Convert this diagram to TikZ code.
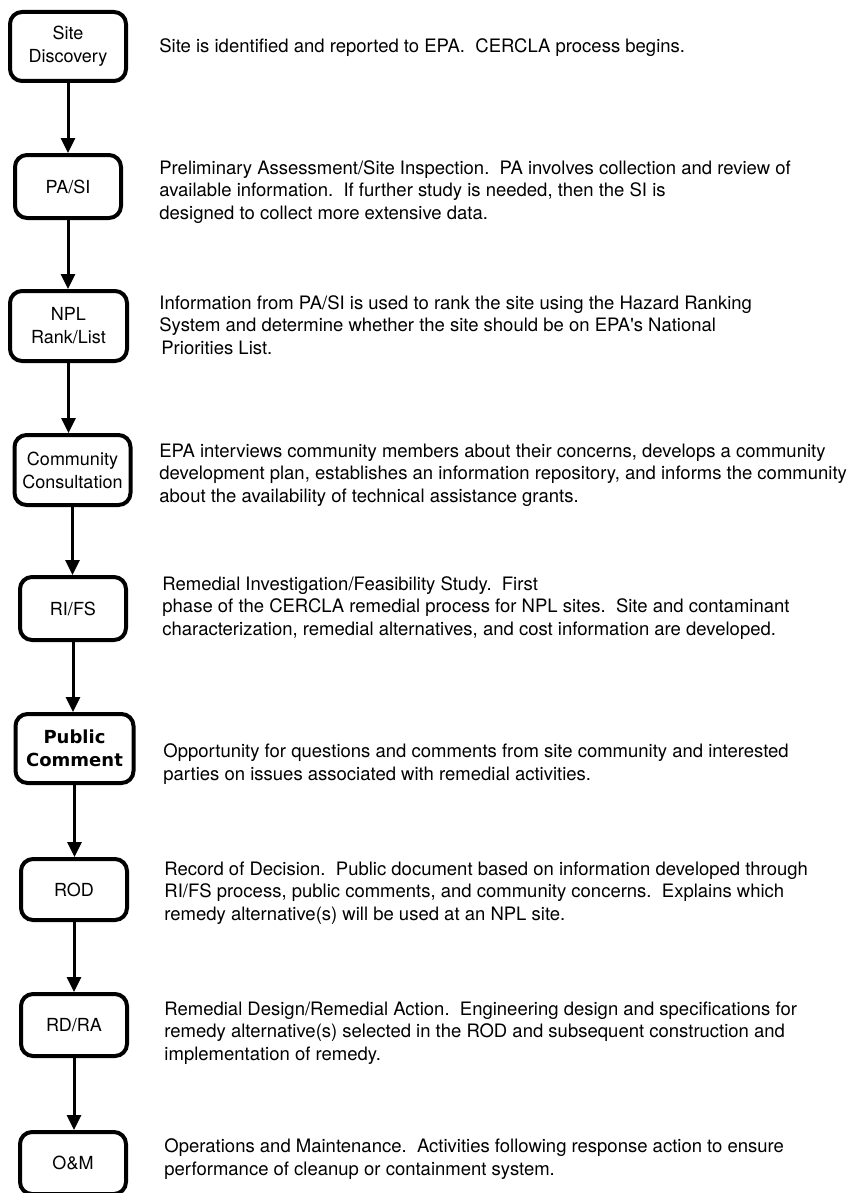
\documentclass[tikz,border=0pt]{standalone}
\usepackage{fontspec}
\setmainfont{TeX Gyre Heros}
\newfontfamily\heavyfont{DejaVu Sans}
\usetikzlibrary{arrows.meta}

\tikzset{
  stage/.style={draw, line width=2pt, rounded corners=6pt, align=center, inner sep=0pt, font=\fontsize{9}{11.5}\selectfont},
  info/.style={anchor=base west, align=left, inner sep=0pt, font=\fontsize{9.25}{11.25}\selectfont},
  flow/.style={line width=1.5pt, -{Triangle[length=7.5pt,width=7pt]}}
}

\begin{document}
\begin{tikzpicture}[x=0.5pt,y=-0.5pt]
\useasboundingbox (0,0) rectangle (852,1193);
	\node[stage, minimum width=58pt, minimum height=34.5pt] (disc) at (68,46.5) {Site\\Discovery};
	\node[stage, minimum width=53pt, minimum height=31.5pt] (pasi) at (68,186.5) {PA/SI};
	\node[stage, minimum width=58.5pt, minimum height=35pt] (npl) at (68.5,326) {NPL\\Rank/List};
	\node[stage, minimum width=58pt, minimum height=35pt] (comm) at (72.5,470) {Community\\Consultation};
	\node[stage, minimum width=53pt, minimum height=31.5pt] (rifs) at (73,608.5) {RI/FS};
	\node[stage, minimum width=59pt, minimum height=34.5pt, font=\heavyfont\bfseries\fontsize{9}{11.5}\selectfont] (pubc) at (74.5,748.5) {Public\\Comment};
	\node[stage, minimum width=53pt, minimum height=30.5pt] (rod) at (74,889.5) {ROD};
	\node[stage, minimum width=53pt, minimum height=31pt] (rdra) at (74,1025) {RD/RA};
	\node[stage, minimum width=53pt, minimum height=31pt] (om) at (73,1163) {O\&M};
	\draw[flow] (disc.south) -- (disc.south |- pasi.north);
	\draw[flow] (pasi.south) -- (pasi.south |- npl.north);
	\draw[flow] (npl.south) -- (npl.south |- comm.north);
	\draw[flow] (comm.south) -- (comm.south |- rifs.north);
	\draw[flow] (rifs.south) -- (rifs.south |- pubc.north);
	\draw[flow] (pubc.south) -- (pubc.south |- rod.north);
	\draw[flow] (rod.south) -- (rod.south |- rdra.north);
	\draw[flow] (rdra.south) -- (rdra.south |- om.north);
	\node[info] (discinfo) at (159,53) {Site is identified and reported to EPA.~~CERCLA process begins.};
	\node[info] (pasiinfo) at (159,219) {Preliminary Assessment/Site Inspection.~~PA involves collection and review of\\available information.~~If further study is needed, then the SI is\\designed to collect more extensive data.};
	\node[info] (nplinfo) at (159,354) {Information from PA/SI is used to rank the site using the Hazard Ranking\\System and determine whether the site should be on EPA\textquotesingle s National\\\hspace*{1pt}Priorities List.};
	\node[info] (comminfo) at (159,502) {EPA interviews community members about their concerns, develops a community\\development plan, establishes an information repository, and informs the community\\about the availability of technical assistance grants.};
	\node[info] (rifsinfo) at (162,635) {Remedial Investigation/Feasibility Study.~~First\\phase of the CERCLA remedial process for NPL sites.~~Site and contaminant\\characterization, remedial alternatives, and cost information are developed.};
	\node[info] (pubcinfo) at (163,780) {Opportunity for questions and comments from site community and interested\\parties on issues associated with remedial activities.};
	\node[info] (rodinfo) at (164,920) {Record of Decision.~~Public document based on information developed through\\RI/FS process, public comments, and community concerns.~~Explains which\\remedy alternative(s) will be used at an NPL site.};
	\node[info] (rdrainfo) at (164,1060) {Remedial Design/Remedial Action.~~Engineering design and specifications for\\remedy alternative(s) selected in the ROD and subsequent construction and\\implementation of remedy.};
	\node[info] (ominfo) at (164,1175) {Operations and Maintenance.~~Activities following response action to ensure\\performance of cleanup or containment system.};
\end{tikzpicture}
\end{document}
